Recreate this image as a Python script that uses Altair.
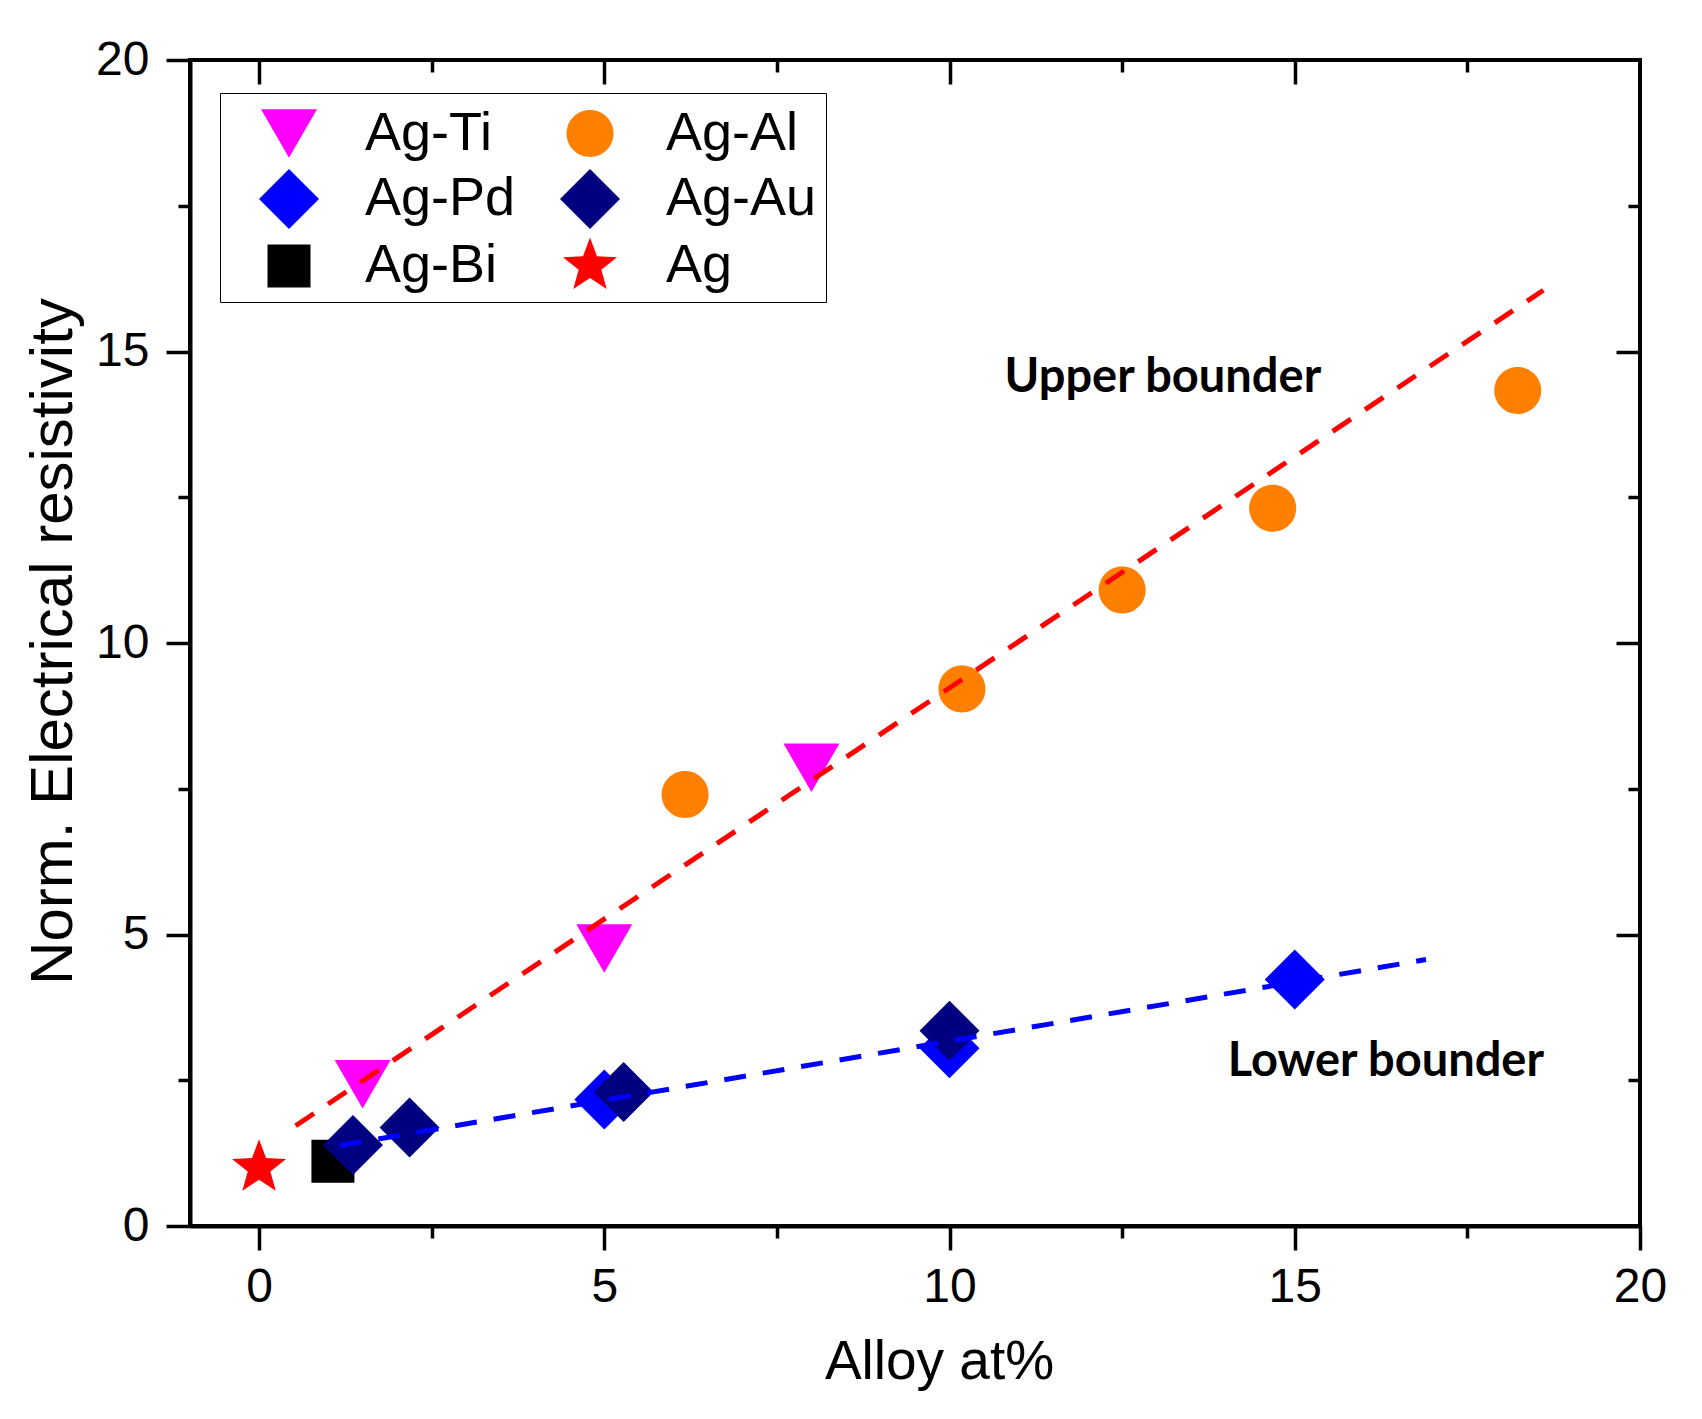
import altair as alt
import pandas as pd

# ---------------- data ----------------
series_names = ["Ag-Ti", "Ag-Pd", "Ag-Bi", "Ag-Al", "Ag-Au", "Ag"]
series_colors = ["#FF00FF", "#0000FF", "#000000", "#FF8000", "#000080", "#FF0000"]

ti_x = [1.5, 5.0, 8.0]
ti_y = [2.43, 4.76, 7.86]
al_x = [6.17, 10.18, 12.5, 14.68, 18.23]
al_y = [7.40, 9.21, 10.91, 12.31, 14.33]
bi_x = [1.07]
bi_y = [1.11]
pd_x = [5.0, 10.0, 15.0]
pd_y = [2.17, 3.05, 4.23]
au_x = [1.36, 2.18, 5.28, 10.0]
au_y = [1.39, 1.69, 2.30, 3.35]
ag_x = [0.0]
ag_y = [1.0]

upper_x = [0.53, 18.6]
upper_y = [1.72, 16.05]
lower_x = [1.17, 16.9]
lower_y = [1.38, 4.57]

note_text = ["Upper bounder", "Lower bounder"]
note_x = [13.09, 16.32]
note_y = [14.31, 2.57]

major_ticks = [0, 5, 10, 15, 20]
minor_ticks = [2.5, 7.5, 12.5, 17.5]

# ---------------- symbol shapes (unit = half of sqrt(size)) ----------------
tri_down = "M-0.933,-0.808L0.933,-0.808L0,0.808Z"
circle_p = "M-0.783,0A0.783,0.783,0,1,0,0.783,0A0.783,0.783,0,1,0,-0.783,0Z"
square_p = "M-0.717,-0.717L0.717,-0.717L0.717,0.717L-0.717,0.717Z"
diamond_p = "M0,-1L1,0L0,1L-1,0Z"
star_p = ("M0,-0.947L0.234,-0.322L0.901,-0.293L0.378,0.123L0.557,0.766"
          "L0,0.398L-0.557,0.766L-0.378,0.123L-0.901,-0.293L-0.234,-0.322Z")
series_shapes = [tri_down, diamond_p, square_p, circle_p, diamond_p, star_p]

# ---------------- tables ----------------
draw_order = [("Ag-Ti", ti_x, ti_y), ("Ag-Al", al_x, al_y), ("Ag-Bi", bi_x, bi_y),
              ("Ag-Pd", pd_x, pd_y), ("Ag-Au", au_x, au_y), ("Ag", ag_x, ag_y)]
rows = []
for name, xs_, ys_ in draw_order:
    for a, b in zip(xs_, ys_):
        rows.append({"series": name, "x": a, "y": b, "order": len(rows)})
points = pd.DataFrame(rows)
upper = pd.DataFrame({"x": upper_x, "y": upper_y})
lower = pd.DataFrame({"x": lower_x, "y": lower_y})
notes = pd.DataFrame({"x": note_x, "y": note_y, "t": note_text})

W, H = 1450, 1166
FONT = "Liberation Sans"

xs = alt.Scale(domain=[-1, 20], nice=False, zero=False)
ys = alt.Scale(domain=[0, 20], nice=False, zero=False)


def tick_axis(orient, values, size, offset=0):
    return alt.Axis(orient=orient, values=values, tickSize=size, offset=offset,
                    labels=False, domain=False, grid=False, title=None,
                    tickColor="black", tickWidth=3.5)


legend = alt.Legend(orient="none", legendX=30, legendY=33, columns=2, gridAlign="all",
                    labelFont=FONT, labelFontSize=54, labelColor="black",
                    labelOffset=46, columnPadding=14, rowPadding=7, padding=9,
                    symbolOffset=30, symbolSize=3600, symbolStrokeWidth=0,
                    symbolOpacity=1, strokeColor="black", fillColor="white",
                    labelLimit=500)

pts = alt.Chart(points).mark_point(filled=True, opacity=1, size=3600, strokeWidth=0).encode(
    x=alt.X("x:Q", scale=xs, axis=alt.Axis(
        orient="bottom", values=major_ticks, tickSize=24, tickWidth=3.5, tickColor="black",
        domain=True, domainColor="black", domainWidth=4,
        labelFont=FONT, labelFontSize=48, labelPadding=13, labelColor="black",
        labelFlush=False, labelOverlap=False, grid=False,
        title="Alloy at%", titleFont=FONT, titleFontSize=55, titleFontWeight="normal",
        titleColor="black", titleBaseline="alphabetic", titleAlign="center",
        titleX=749, titleY=152)),
    y=alt.Y("y:Q", scale=ys, axis=alt.Axis(
        orient="left", values=major_ticks, tickSize=24, tickWidth=3.5, tickColor="black",
        domain=True, domainColor="black", domainWidth=4,
        labelFont=FONT, labelFontSize=48, labelPadding=17, labelColor="black",
        labelFlush=False, labelOverlap=False, grid=False,
        title="Norm. Electrical resistivity", titleFont=FONT, titleFontSize=60,
        titleFontWeight="normal", titleColor="black", titleAngle=270,
        titleBaseline="alphabetic", titleAlign="center", titleX=-119, titleY=581)),
    color=alt.Color("series:N", scale=alt.Scale(domain=series_names, range=series_colors),
                    legend=legend, title=None),
    shape=alt.Shape("series:N", scale=alt.Scale(domain=series_names, range=series_shapes),
                    legend=legend, title=None),
    order=alt.Order("order:Q"),
)

red_line = alt.Chart(upper).mark_line(color="#FF0000", strokeWidth=5, strokeDash=[22, 17]).encode(
    x=alt.X("x:Q", scale=xs, axis=tick_axis("bottom", minor_ticks, 12)),
    y=alt.Y("y:Q", scale=ys, axis=tick_axis("left", minor_ticks, 12)),
)

blue_line = alt.Chart(lower).mark_line(color="#0000FF", strokeWidth=5, strokeDash=[22, 17]).encode(
    x=alt.X("x:Q", scale=xs, axis=tick_axis("bottom", [0, 5, 10, 15], 24, -H)),
    y=alt.Y("y:Q", scale=ys, axis=tick_axis("left", [5, 10, 15], 24, -W)),
)

texts = alt.Chart(notes).mark_text(font="Lato", fontWeight="bold", fontSize=47,
                                   align="center", baseline="alphabetic", color="black").encode(
    x=alt.X("x:Q", scale=xs, axis=tick_axis("bottom", minor_ticks, 12, -H)),
    y=alt.Y("y:Q", scale=ys, axis=tick_axis("left", minor_ticks, 12, -W)),
    text="t:N",
)

chart = alt.layer(pts, red_line, blue_line, texts).resolve_axis(
    x="independent", y="independent"
).properties(
    width=W, height=H,
    autosize=alt.AutoSizeParams(type="none"),
    padding={"left": 182, "top": 52, "right": 50, "bottom": 170},
    background="white",
).configure_view(stroke="black", strokeWidth=4)

chart.save("out.html", embed_options={"renderer": "svg", "actions": False})
